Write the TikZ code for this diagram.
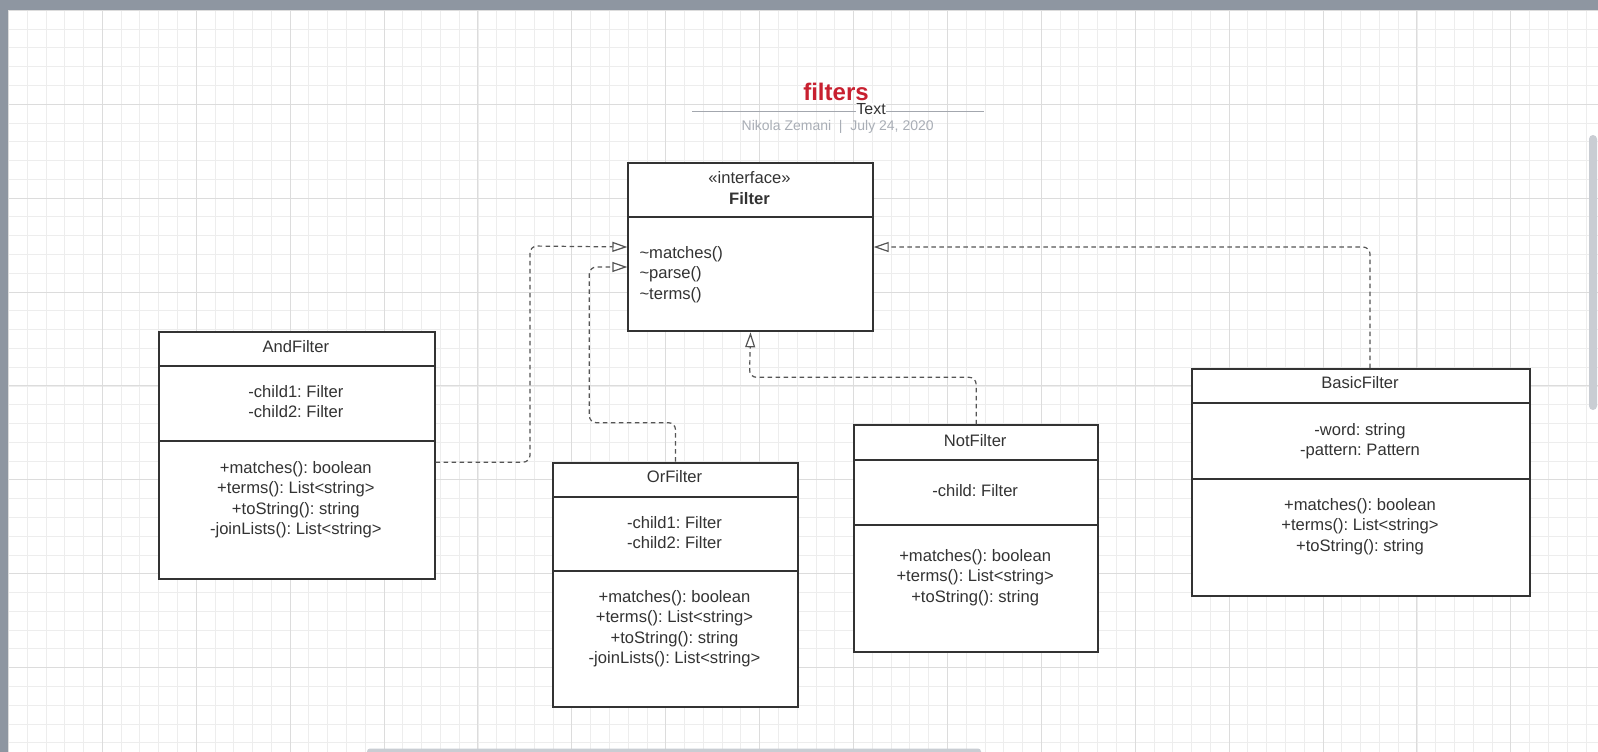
\documentclass[tikz,border=0pt]{standalone}
\usepackage{fontspec}
\setmainfont{Liberation Sans}
\usetikzlibrary{arrows.meta,calc}
\definecolor{ink}{HTML}{333333}
\definecolor{conn}{HTML}{555555}
\definecolor{gridminor}{HTML}{EDEDED}
\definecolor{gridmajor}{HTML}{DCDCDC}
\definecolor{chrome}{HTML}{8E96A1}
\definecolor{scrollc}{HTML}{C9CDD3}
\definecolor{titlered}{RGB}{200,32,48}
\definecolor{meta}{HTML}{A9AEB6}
\definecolor{rulec}{HTML}{A3A7AE}
\frenchspacing
\begin{document}
\begin{tikzpicture}[x=1pt,y=-1pt,
  cls/.style={draw=ink, line width=2pt, fill=white, rectangle, inner sep=0pt, anchor=north west},
  divider/.style={draw=ink, line width=2pt},
  txt/.style={font=\fontsize{16.6}{20.5}\selectfont, text=ink, align=center, anchor=base, inner sep=0pt},
  ltxt/.style={font=\fontsize{16.6}{20.5}\selectfont, text=ink, align=left, anchor=base west, inner sep=0pt},
  dep/.style={draw=conn, line width=1.2pt, dash pattern=on 4.5pt off 3.5pt, rounded corners=7pt,
     -{Triangle[length=15pt,width=10pt,fill=white,line width=1.2pt]}},
]
\useasboundingbox (0,0) rectangle (1598,752);
% canvas
\fill[white] (0,0) rectangle (1598,752);
\foreach \i in {0,...,84} {
  \pgfmathsetmacro\gx{8.4+18.78*\i}
  \draw[gridminor, line width=0.8pt] (\gx,10.3) -- (\gx,752);
}
\foreach \i in {0,...,39} {
  \pgfmathsetmacro\gy{10.3+18.78*\i}
  \draw[gridminor, line width=0.8pt] (8.4,\gy) -- (1598,\gy);
}
\foreach \i in {0,...,16} {
  \pgfmathsetmacro\gx{8.4+93.9*\i}
  \draw[gridmajor, line width=0.9pt] (\gx,10.3) -- (\gx,752);
}
\foreach \i in {0,...,7} {
  \pgfmathsetmacro\gy{10.3+93.9*\i}
  \draw[gridmajor, line width=0.9pt] (8.4,\gy) -- (1598,\gy);
}
\fill[chrome] (0,0) rectangle (1598,10.3);
\fill[chrome] (0,0) rectangle (8.4,752);
\fill[scrollc, rounded corners=4pt] (1589,135) rectangle (1597,410);
\fill[scrollc, rounded corners=3pt] (367,748.5) rectangle (981,757);

% title block
\node[font=\fontsize{24}{28}\selectfont\bfseries, text=titlered, anchor=base, inner sep=0pt] (title) at (836,100.7) {filters};
\coordinate (ruleL) at (692.3,111.3);
\coordinate (ruleR) at (984,111.3);
\draw[rulec, line width=1.5pt] (ruleL) -- (ruleR);
\node[font=\fontsize{16}{18}\selectfont, text=ink, fill=white, inner sep=0.5pt, anchor=base] (textlbl) at (871,114.3) {Text};
\node[font=\fontsize{14}{16}\selectfont, text=meta, anchor=base, inner sep=0pt] (byline) at (837.7,130) {Nikola Zemani\ \ |\ \ July 24, 2020};

% Filter interface
\node[cls, minimum width=244.4pt, minimum height=168.6pt] (filter) at (627.3,161.7) {};
\draw[divider] (filter.west |- 0,217) -- (filter.east |- 0,217);
\node[txt] (filterStereo) at (749.5,183.3) {«interface»};
\node[txt, font=\fontsize{16.6}{20.5}\selectfont\bfseries] (filterName) at (749.5,204.3) {Filter};
\node[ltxt] (filterOps) at (639.3,299.3) {\textasciitilde matches()\\\textasciitilde parse()\\\textasciitilde terms()};

% AndFilter
\node[cls, minimum width=275.7pt, minimum height=247pt] (andF) at (158,330.7) {};
\draw[divider] (andF.west |- 0,365.7) -- (andF.east |- 0,365.7);
\draw[divider] (andF.west |- 0,441.3) -- (andF.east |- 0,441.3);
\node[txt] (andName) at (295.85,352) {AndFilter};
\node[txt] (andAttr) at (295.85,417.5) {-child1: Filter\\-child2: Filter};
\node[txt] (andOps) at (295.85,534.5) {+matches(): boolean\\+terms(): List<string>\\+toString(): string\\-joinLists(): List<string>};

% OrFilter
\node[cls, minimum width=244.4pt, minimum height=244.3pt] (orF) at (552.3,461.7) {};
\draw[divider] (orF.west |- 0,497.3) -- (orF.east |- 0,497.3);
\draw[divider] (orF.west |- 0,570.7) -- (orF.east |- 0,570.7);
\node[txt] (orName) at (674.5,482.7) {OrFilter};
\node[txt] (orAttr) at (674.5,548.5) {-child1: Filter\\-child2: Filter};
\node[txt] (orOps) at (674.5,663.5) {+matches(): boolean\\+terms(): List<string>\\+toString(): string\\-joinLists(): List<string>};

% NotFilter
\node[cls, minimum width=244.3pt, minimum height=226.7pt] (notF) at (853,424.3) {};
\draw[divider] (notF.west |- 0,459.7) -- (notF.east |- 0,459.7);
\draw[divider] (notF.west |- 0,525) -- (notF.east |- 0,525);
\node[txt] (notName) at (975.15,446) {NotFilter};
\node[txt] (notAttr) at (975.15,496) {-child: Filter};
\node[txt] (notOps) at (975.15,602.3) {+matches(): boolean\\+terms(): List<string>\\+toString(): string};

% BasicFilter
\node[cls, minimum width=338pt, minimum height=226.7pt] (basicF) at (1191,368) {};
\draw[divider] (basicF.west |- 0,403) -- (basicF.east |- 0,403);
\draw[divider] (basicF.west |- 0,478.7) -- (basicF.east |- 0,478.7);
\node[txt] (basicName) at (1360,388.7) {BasicFilter};
\node[txt] (basicAttr) at (1360,455.5) {-word: string\\-pattern: Pattern};
\node[txt] (basicOps) at (1360,551) {+matches(): boolean\\+terms(): List<string>\\+toString(): string};

% realizations
\coordinate (bendA) at (530,246);
\coordinate (bendO) at (589.3,422.7);
\coordinate (bendN) at (749.5,377.3);
\draw[dep] ([yshift=-7pt]andF.east) -| (bendA) -- (filter.west);
\draw[dep] (orF.north) |- (bendO) |- ([yshift=-20pt]filter.west);
\draw[dep] (notF.north) |- (bendN) -- (filter.south);
\draw[dep] ([xshift=9pt]basicF.north) |- (filter.east);
\end{tikzpicture}
\end{document}
